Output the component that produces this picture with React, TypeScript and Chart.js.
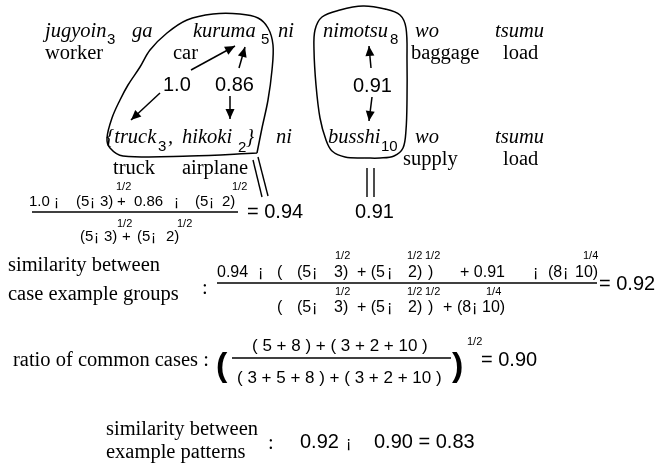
import React, { useEffect, useRef } from "react";
import { Chart, registerables } from "chart.js";

Chart.register(...registerables);

// ---- data ----
const words = ["jugyoin", "kuruma", "nimotsu", "truck", "hikoki", "busshi"];
const counts = [3, 5, 8, 3, 2, 10];
const glosses = ["worker", "car", "baggage", "truck", "airplane", "supply"];
const particles = ["ga", "ni", "wo"];
const verbs = ["tsumu", "load"];
const pairSimilarities = [1.0, 0.86, 0.91];
const groupSimilarities = [0.94, 0.91];
const results = [0.92, 0.9, 0.83];
const roots = ["1/2", "1/4"];
const labels = [
  "similarity between",
  "case example groups",
  "ratio of common cases :",
  "example patterns",
];
const TIMES = "¡";

const f2 = (v: number) => v.toFixed(2);
const f1 = (v: number) => v.toFixed(1);

// ---- layout (geometry of the diagram) ----
const FONTS: Record<string, string> = {
  it: 'italic 20.5px "Liberation Serif"',
  rm: '20.5px "Liberation Serif"',
  num: '20px "Liberation Sans"',
  sub: '15px "Liberation Sans"',
  f15: '15px "Liberation Sans"',
  f16: '16px "Liberation Sans"',
  f17: '17px "Liberation Sans"',
  sup: '11px "Liberation Sans"',
  big: 'bold 34px "Liberation Sans"',
};

type T = { t: string; x: number; y: number; f: string };

const texts: T[] = [
  // row 1
  { t: words[0], x: 45, y: 37, f: "it" },
  { t: String(counts[0]), x: 107, y: 44, f: "sub" },
  { t: particles[0], x: 132, y: 37, f: "it" },
  { t: words[1], x: 193, y: 37, f: "it" },
  { t: String(counts[1]), x: 261, y: 44, f: "sub" },
  { t: particles[1], x: 278, y: 37, f: "it" },
  { t: words[2], x: 323, y: 37, f: "it" },
  { t: String(counts[2]), x: 390, y: 44, f: "sub" },
  { t: particles[2], x: 415, y: 37, f: "it" },
  { t: verbs[0], x: 495, y: 37, f: "it" },
  // row 2
  { t: glosses[0], x: 45, y: 59, f: "rm" },
  { t: glosses[1], x: 173, y: 59, f: "rm" },
  { t: glosses[2], x: 411, y: 59, f: "rm" },
  { t: verbs[1], x: 503, y: 59, f: "rm" },
  // similarities
  { t: f1(pairSimilarities[0]), x: 163, y: 91, f: "num" },
  { t: f2(pairSimilarities[1]), x: 215, y: 91, f: "num" },
  { t: f2(pairSimilarities[2]), x: 353, y: 92, f: "num" },
  // row 3
  { t: "{" + words[3], x: 106, y: 143, f: "it" },
  { t: String(counts[3]), x: 158, y: 151, f: "sub" },
  { t: ",", x: 168, y: 143, f: "it" },
  { t: words[4], x: 182, y: 143, f: "it" },
  { t: String(counts[4]), x: 238, y: 152, f: "sub" },
  { t: "}", x: 246, y: 143, f: "it" },
  { t: particles[1], x: 276, y: 143, f: "it" },
  { t: words[5], x: 328, y: 143, f: "it" },
  { t: String(counts[5]), x: 381, y: 151, f: "sub" },
  { t: particles[2], x: 415, y: 143, f: "it" },
  { t: verbs[0], x: 495, y: 143, f: "it" },
  // row 4
  { t: glosses[3], x: 113, y: 174, f: "rm" },
  { t: glosses[4], x: 182, y: 174, f: "rm" },
  { t: glosses[5], x: 403, y: 165, f: "rm" },
  { t: verbs[1], x: 503, y: 165, f: "rm" },
  // fraction 1
  { t: f1(pairSimilarities[0]), x: 29, y: 206, f: "f15" },
  { t: TIMES, x: 54, y: 206, f: "f15" },
  { t: "(" + counts[1], x: 76, y: 206, f: "f15" },
  { t: TIMES, x: 90, y: 206, f: "f15" },
  { t: counts[3] + ")", x: 100, y: 206, f: "f15" },
  { t: "+", x: 117, y: 206, f: "f15" },
  { t: f2(pairSimilarities[1]), x: 134, y: 206, f: "f15" },
  { t: TIMES, x: 174, y: 206, f: "f15" },
  { t: "(" + counts[1], x: 195, y: 206, f: "f15" },
  { t: TIMES, x: 209, y: 206, f: "f15" },
  { t: counts[4] + ")", x: 222, y: 206, f: "f15" },
  { t: roots[0], x: 116, y: 190, f: "sup" },
  { t: roots[0], x: 232, y: 190, f: "sup" },
  { t: "(" + counts[1], x: 80, y: 241, f: "f15" },
  { t: TIMES, x: 94, y: 241, f: "f15" },
  { t: counts[3] + ")", x: 104, y: 241, f: "f15" },
  { t: "+", x: 122, y: 241, f: "f15" },
  { t: "(" + counts[1], x: 137, y: 241, f: "f15" },
  { t: TIMES, x: 151, y: 241, f: "f15" },
  { t: counts[4] + ")", x: 166, y: 241, f: "f15" },
  { t: roots[0], x: 117, y: 227, f: "sup" },
  { t: roots[0], x: 177, y: 227, f: "sup" },
  { t: "= " + f2(groupSimilarities[0]), x: 247, y: 218, f: "num" },
  { t: f2(groupSimilarities[1]), x: 355, y: 218, f: "num" },
  // fraction 2
  { t: labels[0], x: 8, y: 271, f: "rm" },
  { t: labels[1], x: 8, y: 300, f: "rm" },
  { t: ":", x: 202, y: 294, f: "rm" },
  { t: f2(groupSimilarities[0]), x: 217, y: 277, f: "f16" },
  { t: TIMES, x: 258, y: 277, f: "f16" },
  { t: "(", x: 277, y: 277, f: "f16" },
  { t: "(" + counts[1], x: 297, y: 277, f: "f16" },
  { t: TIMES, x: 312, y: 277, f: "f16" },
  { t: counts[3] + ")", x: 334, y: 277, f: "f16" },
  { t: "+ (" + counts[1], x: 357, y: 277, f: "f16" },
  { t: TIMES, x: 387, y: 277, f: "f16" },
  { t: counts[4] + ")", x: 408, y: 277, f: "f16" },
  { t: ")", x: 428, y: 277, f: "f16" },
  { t: "+ " + f2(groupSimilarities[1]), x: 460, y: 277, f: "f16" },
  { t: TIMES, x: 533, y: 277, f: "f16" },
  { t: "(" + counts[2], x: 548, y: 277, f: "f16" },
  { t: TIMES, x: 563, y: 277, f: "f16" },
  { t: counts[5] + ")", x: 575, y: 277, f: "f16" },
  { t: roots[0], x: 335, y: 259, f: "sup" },
  { t: roots[0], x: 407, y: 259, f: "sup" },
  { t: roots[0], x: 425, y: 259, f: "sup" },
  { t: roots[1], x: 583, y: 259, f: "sup" },
  { t: "(", x: 277, y: 312, f: "f16" },
  { t: "(" + counts[1], x: 297, y: 312, f: "f16" },
  { t: TIMES, x: 312, y: 312, f: "f16" },
  { t: counts[3] + ")", x: 334, y: 312, f: "f16" },
  { t: "+ (" + counts[1], x: 357, y: 312, f: "f16" },
  { t: TIMES, x: 387, y: 312, f: "f16" },
  { t: counts[4] + ")", x: 408, y: 312, f: "f16" },
  { t: ")", x: 428, y: 312, f: "f16" },
  { t: "+", x: 443, y: 312, f: "f16" },
  { t: "(" + counts[2], x: 457, y: 312, f: "f16" },
  { t: TIMES, x: 472, y: 312, f: "f16" },
  { t: counts[5] + ")", x: 482, y: 312, f: "f16" },
  { t: roots[0], x: 335, y: 295, f: "sup" },
  { t: roots[0], x: 407, y: 295, f: "sup" },
  { t: roots[0], x: 425, y: 295, f: "sup" },
  { t: roots[1], x: 486, y: 295, f: "sup" },
  { t: "= " + f2(results[0]), x: 599, y: 290, f: "num" },
  // fraction 3
  { t: labels[2], x: 13, y: 366, f: "rm" },
  { t: "(", x: 216, y: 376, f: "big" },
  { t: ")", x: 452, y: 376, f: "big" },
  {
    t: `( ${counts[1]} + ${counts[2]} ) + ( ${counts[3]} + ${counts[4]} + ${counts[5]} )`,
    x: 252, y: 351, f: "f17",
  },
  {
    t: `( ${counts[0]} + ${counts[1]} + ${counts[2]} ) + ( ${counts[3]} + ${counts[4]} + ${counts[5]} )`,
    x: 237, y: 383, f: "f17",
  },
  { t: roots[0], x: 467, y: 345, f: "sup" },
  { t: "= " + f2(results[1]), x: 481, y: 366, f: "num" },
  // bottom
  { t: labels[0], x: 106, y: 435, f: "rm" },
  { t: labels[3], x: 106, y: 458, f: "rm" },
  { t: ":", x: 268, y: 449, f: "rm" },
  { t: f2(results[0]), x: 300, y: 448, f: "num" },
  { t: TIMES, x: 346, y: 448, f: "f16" },
  { t: f2(results[1]) + " = " + f2(results[2]), x: 374, y: 448, f: "num" },
];

type P = [number, number];
const outlineGroup1: P[] = [
  [257, 153], [262, 128], [268, 100], [272, 70], [273, 45], [268, 28], [258, 18],
  [240, 14], [213, 14], [187, 20], [167, 33], [150, 50], [140, 67], [128, 85],
  [120, 100], [112, 118], [107, 138], [110, 148], [123, 156], [190, 156], [257, 153],
];
const outlineGroup2: P[] = [
  [365, 158], [345, 157], [332, 151], [326, 140], [320, 118], [316, 85], [314, 50],
  [315, 30], [322, 17], [340, 10], [363, 6], [385, 9], [400, 15], [406, 28],
  [407, 60], [407, 100], [406, 130], [403, 148], [394, 156], [380, 158], [365, 158],
];
const arrows: [P, P][] = [
  [[191, 70], [235, 46]],
  [[239, 68], [245, 47]],
  [[160, 93], [131, 120]],
  [[230, 96], [230, 119]],
  [[371, 68], [369, 46]],
  [[372, 97], [369, 121]],
];
const strokes: [P, P][] = [
  [[253, 160], [262, 197]],
  [[258, 157], [268, 196]],
  [[367, 168], [367, 197]],
  [[374, 168], [374, 197]],
  [[32, 212], [238, 212]],
  [[217, 283], [597, 283]],
  [[232, 358], [451, 358]],
];

const toPts = (ps: P[]) => ps.map(([x, y]) => ({ x, y }));

const overlay = {
  id: "overlay",
  afterDatasetsDraw(chart: any) {
    const { ctx } = chart;
    const xs = chart.scales.x;
    const ys = chart.scales.y;
    ctx.save();
    ctx.fillStyle = "#000";
    ctx.textBaseline = "alphabetic";
    ctx.textAlign = "left";
    for (const it of texts) {
      ctx.font = FONTS[it.f];
      ctx.fillText(it.t, xs.getPixelForValue(it.x), ys.getPixelForValue(it.y));
    }
    // arrow heads
    for (const [a, b] of arrows) {
      const x1 = xs.getPixelForValue(a[0]);
      const y1 = ys.getPixelForValue(a[1]);
      const x2 = xs.getPixelForValue(b[0]);
      const y2 = ys.getPixelForValue(b[1]);
      const ang = Math.atan2(y2 - y1, x2 - x1);
      const L = 10;
      const W = 4.5;
      ctx.beginPath();
      ctx.moveTo(x2, y2);
      ctx.lineTo(
        x2 - L * Math.cos(ang) + W * Math.sin(ang),
        y2 - L * Math.sin(ang) - W * Math.cos(ang)
      );
      ctx.lineTo(
        x2 - L * Math.cos(ang) - W * Math.sin(ang),
        y2 - L * Math.sin(ang) + W * Math.cos(ang)
      );
      ctx.closePath();
      ctx.fill();
    }
    ctx.restore();
  },
};

export default function App() {
  const ref = useRef<HTMLCanvasElement | null>(null);
  useEffect(() => {
    if (!ref.current) return;
    const lineDs = (pts: P[], tension: number, w: number) => ({
      data: toPts(pts),
      showLine: true,
      borderColor: "#000",
      borderWidth: w,
      pointRadius: 0,
      pointHoverRadius: 0,
      tension,
      fill: false,
    });
    const datasets: any[] = [
      lineDs(outlineGroup1, 0.35, 1.5),
      lineDs(outlineGroup2, 0.35, 1.5),
      ...arrows.map(([a, b]) => lineDs([a, b], 0, 1.5)),
      ...strokes.map(([a, b]) => lineDs([a, b], 0, 1.4)),
    ];
    const chart = new Chart(ref.current, {
      type: "scatter",
      data: { datasets },
      options: {
        animation: false,
        responsive: false,
        devicePixelRatio: 1,
        layout: { padding: 0 },
        plugins: { legend: { display: false }, tooltip: { enabled: false } },
        events: [],
        scales: {
          x: { type: "linear", min: 0, max: 658, display: false },
          y: { type: "linear", min: 0, max: 471, reverse: true, display: false },
        },
      },
      plugins: [overlay],
    });
    return () => chart.destroy();
  }, []);
  return (
    <div
      style={{
        position: "absolute",
        left: 0,
        top: 0,
        width: 658,
        height: 471,
        background: "#fff",
      }}
    >
      <canvas ref={ref} width={658} height={471} style={{ display: "block" }} />
    </div>
  );
}
